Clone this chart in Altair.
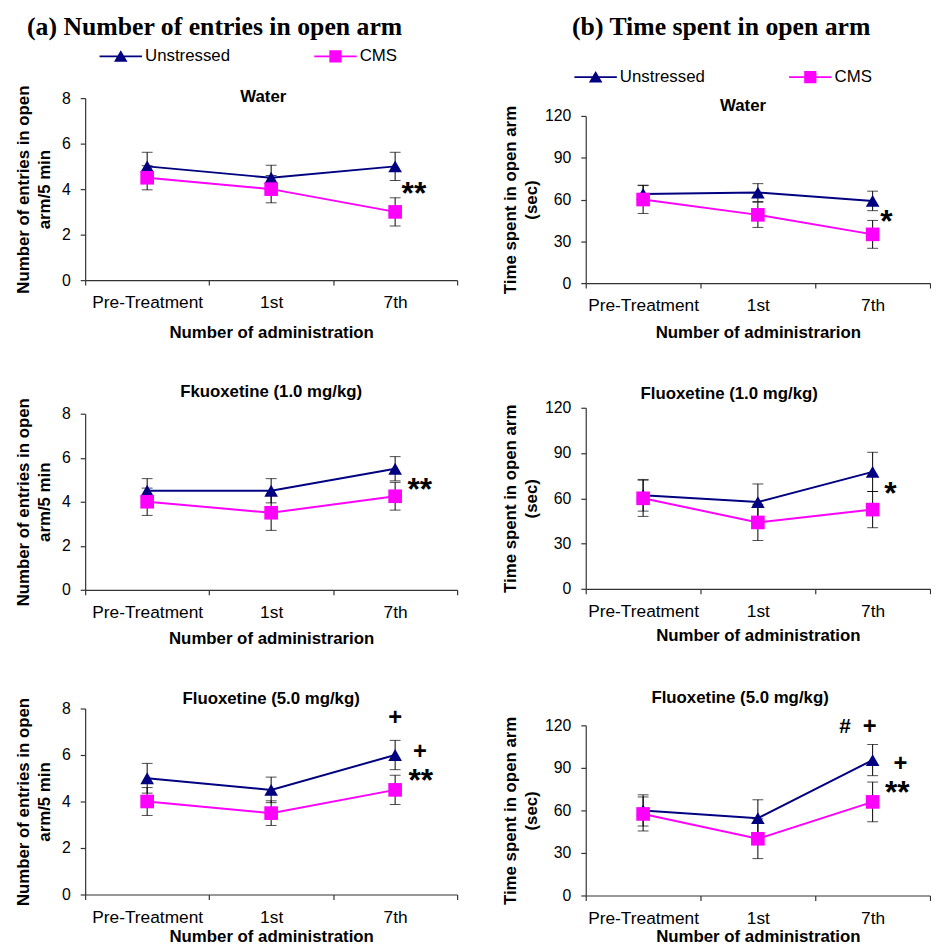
import altair as alt
import pandas as pd

# ---------------- data ----------------
categories = ["Pre-Treatment", "1st", "7th"]
series_names = ["Unstressed", "CMS"]
series_colors = ["#000080", "#FF00FF"]

header_a = "(a) Number of entries in open arm"
header_b = "(b) Time spent in open arm"
y_title_a = ["Number of entries in open", "arm/5 min"]
y_title_b = ["Time spent in open arm", "(sec)"]
y_ticks_a = [0, 2, 4, 6, 8]
y_ticks_b = [0, 30, 60, 90, 120]

# (a) Number of entries in open arm
a1_unstressed = [5.0, 4.5, 5.0]
a1_unstressed_err = [0.62, 0.55, 0.62]
a1_cms = [4.5, 4.0, 3.0]
a1_cms_err = [0.53, 0.6, 0.62]

a2_unstressed = [4.5, 4.5, 5.5]
a2_unstressed_err = [0.55, 0.55, 0.55]
a2_cms = [4.0, 3.5, 4.25]
a2_cms_err = [0.62, 0.8, 0.63]

a3_unstressed = [5.0, 4.5, 6.0]
a3_unstressed_err = [0.64, 0.55, 0.63]
a3_cms = [4.0, 3.5, 4.5]
a3_cms_err = [0.6, 0.53, 0.63]

# (b) Time spent in open arm
b1_unstressed = [64, 65, 59]
b1_unstressed_err = [6.3, 6.4, 7.0]
b1_cms = [60, 49, 35]
b1_cms_err = [10, 9, 10]

b2_unstressed = [62, 57.5, 77.5]
b2_unstressed_err = [10.5, 12, 13]
b2_cms = [60, 44, 52.5]
b2_cms_err = [12, 12, 12]

b3_unstressed = [60, 54.5, 95.5]
b3_unstressed_err = [11, 13, 11]
b3_cms = [57.5, 40, 66]
b3_cms_err = [12, 14, 14]

# significance marks: (text, category, y value)
a1_marks = [("**", "7th", 4.1)]
a2_marks = [("**", "7th", 4.85)]
a3_marks = [("+", "7th", 7.57), ("+", "7th", 6.13), ("**", "7th", 5.19)]
b1_marks = [("*", "7th", 49)]
b2_marks = [("*", "7th", 67.5)]
b3_marks = [("#", "7th", 118.6), ("+", "7th", 118.6), ("+", "7th", 92.8), ("**", "7th", 76.8)]

# horizontal nudges of the marks (pixels)
a1_marks_dx = [19]
a2_marks_dx = [25]
a3_marks_dx = [0, 25, 26]
b1_marks_dx = [14]
b2_marks_dx = [18]
b3_marks_dx = [-28, -3, 28, 25]

# ---------------- style ----------------
SANS = "Liberation Sans"
SERIF = "Liberation Serif"
AXIS_COLOR = "#333333"

# legend glyphs: a line with a marker on it (unit coordinates)
TRI = "M-3.3,-0.13H3.3V0.13H-3.3Z M0,-0.95L1.05,0.85L-1.05,0.85Z"
SQR = "M-3.3,-0.13H3.3V0.13H-3.3Z M-0.95,-0.95H0.95V0.95H-0.95Z"

mark_style = {
    "**": dict(fontSize=32, dy=7),
    "*": dict(fontSize=32, dy=7),
    "+": dict(fontSize=24, dy=0),
    "#": dict(fontSize=21, dy=0),
}


def build_panel(title, y_title, y_ticks, x_title, unst, unst_err, cms, cms_err,
                marks, marks_dx, width, height, x_title_pad, y_title_pad,
                title_offset=0, title_dx=0, top_pad=0, text_title_pos=None,
                legend_pos=None):
    rows = []
    for s, vals, errs in [("Unstressed", unst, unst_err), ("CMS", cms, cms_err)]:
        for c, v, e in zip(categories, vals, errs):
            rows.append(dict(series=s, category=c, value=v, lo=v - e, hi=v + e))
    df = pd.DataFrame(rows)

    x_axis = alt.Axis(title=x_title, tickBand="extent", labelAngle=0,
                      titlePadding=x_title_pad, labelPadding=9)
    x = alt.X("category:N", sort=categories,
              scale=alt.Scale(domain=categories, paddingInner=0, paddingOuter=0),
              axis=x_axis)
    y_scale = alt.Scale(domain=[0, y_ticks[-1]], nice=False, range=[height, top_pad])
    y_axis = alt.Axis(title=y_title, values=y_ticks, titlePadding=y_title_pad,
                      labelPadding=10)

    def Y(field):
        return alt.Y(field, scale=y_scale, axis=y_axis)

    base = alt.Chart(df)
    layers = []
    for s, col in zip(series_names, series_colors):
        layers.append(
            base.transform_filter(alt.datum.series == s)
            .mark_line(color=col, strokeWidth=2)
            .encode(x=x, y=Y("value:Q"))
        )
    layers.append(base.mark_rule(color="black", strokeWidth=1)
                  .encode(x=x, y=Y("lo:Q"), y2="hi:Q"))
    layers.append(base.mark_tick(color="black", thickness=1, size=11, orient="horizontal")
                  .encode(x=x, y=Y("lo:Q")))
    layers.append(base.mark_tick(color="black", thickness=1, size=11, orient="horizontal")
                  .encode(x=x, y=Y("hi:Q")))
    for s, col, shp in zip(series_names, series_colors, ["triangle-up", "square"]):
        layers.append(
            base.transform_filter(alt.datum.series == s)
            .mark_point(shape=shp, filled=True, size=190, color=col, opacity=1)
            .encode(x=x, y=Y("value:Q"))
        )
    for (txt, cat, val), dx in zip(marks, marks_dx):
        st = mark_style[txt]
        mdf = pd.DataFrame([{"category": cat, "value": val, "label": txt}])
        layers.append(
            alt.Chart(mdf).mark_text(font=SANS, fontWeight="bold", fontSize=st["fontSize"],
                                     color="black", align="center", baseline="middle",
                                     dx=dx, dy=st["dy"])
            .encode(x=x, y=Y("value:Q"), text="label:N")
        )
    if text_title_pos is not None:
        tdf = pd.DataFrame({"label": [title]})
        layers.append(
            alt.Chart(tdf).mark_text(font=SANS, fontWeight="bold", fontSize=17,
                                     color="black", align="center", baseline="middle")
            .encode(x=alt.value(text_title_pos[0]), y=alt.value(text_title_pos[1]),
                    text="label:N")
        )
    if legend_pos is not None:
        leg = alt.Legend(title=None, orient="none", legendX=legend_pos[0],
                         legendY=legend_pos[1], direction="horizontal",
                         labelFont=SANS, labelFontSize=17, labelColor="black",
                         symbolSize=169, labelOffset=16, columnPadding=85)
        ldf = pd.DataFrame({"series": series_names,
                            "category": [categories[0]] * 2,
                            "value": [None, None]})
        layers.append(
            alt.Chart(ldf).mark_point(filled=True, opacity=1)
            .encode(
                x=x, y=Y("value:Q"),
                color=alt.Color("series:N", scale=alt.Scale(domain=series_names, range=series_colors), legend=leg),
                shape=alt.Shape("series:N", scale=alt.Scale(domain=series_names, range=[TRI, SQR]), legend=leg),
            )
        )
    ch = alt.layer(*layers).properties(width=width, height=height)
    if text_title_pos is None:
        ch = ch.properties(
            title=alt.TitleParams(title, font=SANS, fontSize=17, fontWeight="bold",
                                  color="black", offset=title_offset, dx=title_dx,
                                  anchor="middle", frame="group"))
    return ch


a1 = build_panel("Water", y_title_a, y_ticks_a, "Number of administration",
                 a1_unstressed, a1_unstressed_err, a1_cms, a1_cms_err,
                 a1_marks, a1_marks_dx, 376, 184, 13, 8,
                 text_title_pos=(180, -1), legend_pos=(27.5, -51))
a2 = build_panel("Fkuoxetine (1.0 mg/kg)", y_title_a, y_ticks_a, "Number of administrarion",
                 a2_unstressed, a2_unstressed_err, a2_cms, a2_cms_err,
                 a2_marks, a2_marks_dx, 376, 178, 10, 8, title_offset=-3.5)
a3 = build_panel("Fluoxetine (5.0 mg/kg)", y_title_a, y_ticks_a, "Number of administration",
                 a3_unstressed, a3_unstressed_err, a3_cms, a3_cms_err,
                 a3_marks, a3_marks_dx, 376, 188, 3, 8, title_offset=-10.5)

b1 = build_panel("Water", y_title_b, y_ticks_b, "Number of administrarion",
                 b1_unstressed, b1_unstressed_err, b1_cms, b1_cms_err,
                 b1_marks, b1_marks_dx, 348, 187, 10, 4, top_pad=18,
                 text_title_pos=(159, 8), legend_pos=(1.5, -30))
b2 = build_panel("Fluoxetine (1.0 mg/kg)", y_title_b, y_ticks_b, "Number of administration",
                 b2_unstressed, b2_unstressed_err, b2_cms, b2_cms_err,
                 b2_marks, b2_marks_dx, 348, 183, 8, 4, title_offset=-3, title_dx=-29)
b3 = build_panel("Fluoxetine (5.0 mg/kg)", y_title_b, y_ticks_b, "Number of administration",
                 b3_unstressed, b3_unstressed_err, b3_cms, b3_cms_err,
                 b3_marks, b3_marks_dx, 348, 172, 2, 4, title_offset=8.5, title_dx=-18)

col_a = alt.vconcat(
    a1, a2, a3, spacing=43,
    title=alt.TitleParams(header_a, font=SERIF, fontSize=26, fontWeight="bold",
                          color="black", anchor="middle", offset=8, dx=-22),
).resolve_scale(color="independent", shape="independent")

col_b = alt.vconcat(
    b1, b2, b3, spacing=45,
    title=alt.TitleParams(header_b, font=SERIF, fontSize=26, fontWeight="bold",
                          color="black", anchor="middle", offset=29, dx=5),
).resolve_scale(color="independent", shape="independent")

chart = (
    alt.hconcat(col_a, col_b, spacing=44)
    .resolve_scale(color="independent", shape="independent")
    .properties(padding={"left": 7, "top": 1, "right": 0, "bottom": 0})
    .configure_view(stroke=None)
    .configure_axis(
        grid=False, domainColor=AXIS_COLOR, tickColor=AXIS_COLOR, domainWidth=1.2,
        tickWidth=1.2, tickSize=5, labelFont=SANS, labelColor="black",
        titleFont=SANS, titleFontSize=17, titleFontWeight="bold", titleColor="black",
        titleLineHeight=21,
    )
    .configure_axisX(labelFontSize=17.5)
    .configure_axisY(labelFontSize=16)
)

chart.save("out.html", embed_options={"renderer": "svg", "actions": False})
